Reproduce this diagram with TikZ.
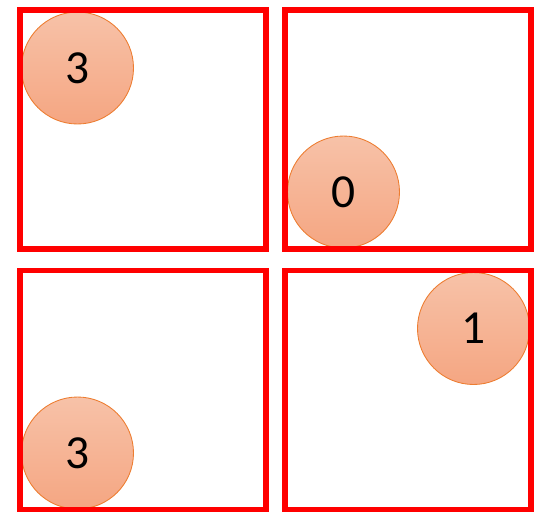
\documentclass[tikz,border=0pt]{standalone}
\usepackage{fontspec}
\setmainfont{Carlito}
\usepackage{tikz}
\usetikzlibrary{shapes}
\usetikzlibrary{positioning}
\definecolor{ballTop}{RGB}{247,194,168}
\definecolor{ballBottom}{RGB}{245,166,130}
\definecolor{ballEdge}{RGB}{237,125,49}
\tikzset{
  % pixel grid of the picture
  px/.style={x=0.02cm, y=-0.02cm}
}

\begin{document}
\begin{tikzpicture}[px]
    % Define styles
    \tikzstyle{ball} = [circle, draw=ballEdge, line width=0.5pt, top color=ballTop, bottom color=ballBottom, minimum size=2.24cm, inner sep=0pt, font=\fontsize{27}{30}\selectfont]
    \tikzstyle{cell} = [rectangle, draw=red, line width=3.2pt, minimum width=4.92cm, minimum height=4.78cm, inner sep=0pt]

    \useasboundingbox (0,0) rectangle (551,528);

    % Place nodes
    \node [ball] (ballA) at (77.5,68) {3};
    \node [ball] (ballB) at (343.5,192) {0};
    \node [ball] (ballC) at (77.5,453) {3};
    \node [ball] (ballD) at (473.5,328.5) {1};

    \node [cell] (cellA) at (143,129.5) {};
    \node [cell] (cellB) at (408,129.5) {};
    \node [cell] (cellC) at (143,390) {};
    \node [cell] (cellD) at (408,390) {};

\end{tikzpicture}
\end{document}
